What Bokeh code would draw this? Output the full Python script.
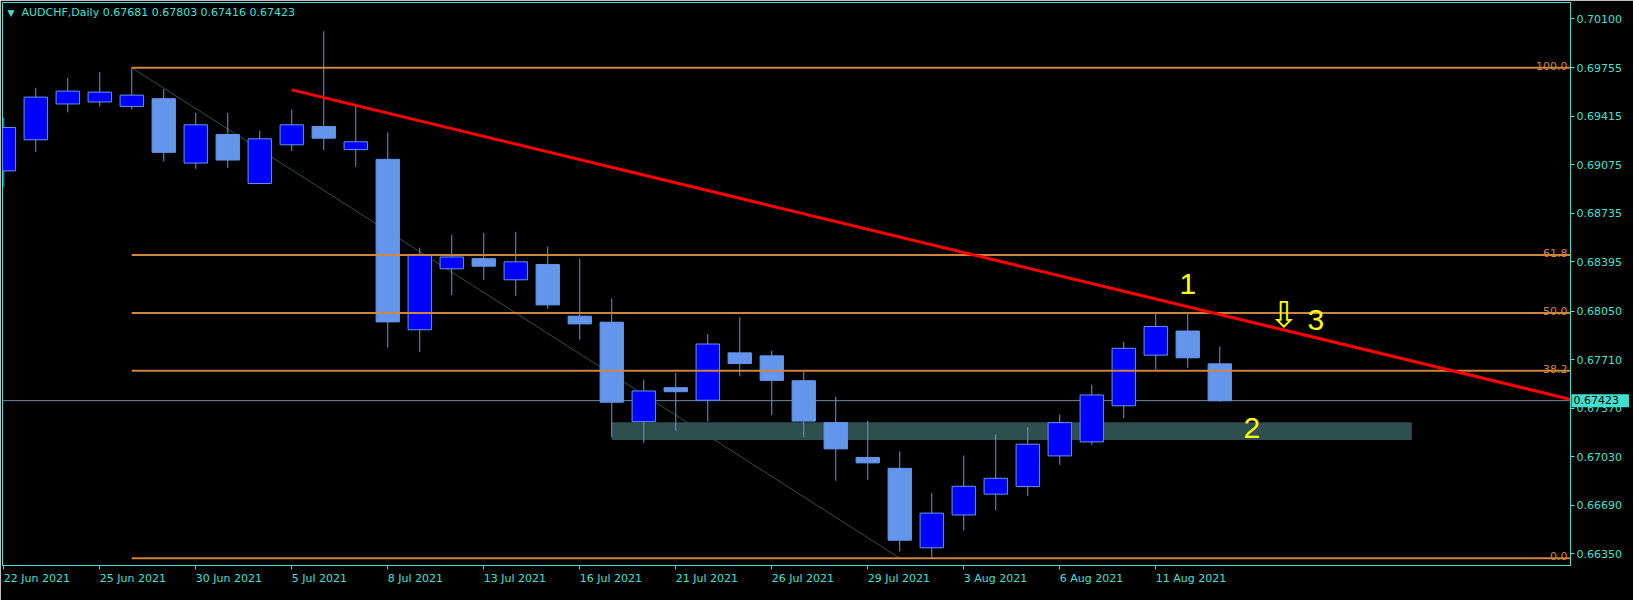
import numpy as np
from bokeh.plotting import figure
from bokeh.models import (Range1d, FixedTicker, PrintfTickFormatter, CustomJSTickFormatter,
                          Label, ColumnDataSource, Span)
from bokeh.core.properties import value
from bokeh.embed import file_html
from bokeh.resources import INLINE

# ---------------- data ----------------
symbol = "AUDCHF"
timeframe = "Daily"

dates = ["2021-06-22", "2021-06-23", "2021-06-24", "2021-06-25", "2021-06-28", "2021-06-29",
         "2021-06-30", "2021-07-01", "2021-07-02", "2021-07-05", "2021-07-06", "2021-07-07",
         "2021-07-08", "2021-07-09", "2021-07-12", "2021-07-13", "2021-07-14", "2021-07-15",
         "2021-07-16", "2021-07-19", "2021-07-20", "2021-07-21", "2021-07-22", "2021-07-23",
         "2021-07-26", "2021-07-27", "2021-07-28", "2021-07-29", "2021-07-30", "2021-08-02",
         "2021-08-03", "2021-08-04", "2021-08-05", "2021-08-06", "2021-08-09", "2021-08-10",
         "2021-08-11", "2021-08-12", "2021-08-13"]

opens = [0.69033, 0.69251, 0.69502, 0.69516, 0.69485, 0.69539, 0.69088, 0.69288, 0.68945,
         0.69216, 0.69344, 0.69182, 0.69114, 0.67920, 0.68347, 0.68418, 0.68270, 0.68377,
         0.68015, 0.67973, 0.67276, 0.67514, 0.67426, 0.67758, 0.67737, 0.67563, 0.67269,
         0.67025, 0.66949, 0.66392, 0.66622, 0.66768, 0.66821, 0.67036, 0.67134, 0.67387,
         0.67742, 0.67911, 0.67681]
highs = [0.69406, 0.69615, 0.69685, 0.69726, 0.69756, 0.69606, 0.69439, 0.69439, 0.69316,
         0.69462, 0.70012, 0.69497, 0.69302, 0.68495, 0.68585, 0.68599, 0.68606, 0.68502,
         0.68418, 0.68140, 0.67570, 0.67618, 0.67890, 0.68008, 0.67772, 0.67625, 0.67451,
         0.67282, 0.67067, 0.66775, 0.67039, 0.67187, 0.67236, 0.67326, 0.67535, 0.67834,
         0.68031, 0.68031, 0.67803]
lows = [0.68919, 0.69165, 0.69443, 0.69485, 0.69464, 0.69100, 0.69047, 0.69054, 0.68940,
        0.69172, 0.69179, 0.69061, 0.67795, 0.67765, 0.68163, 0.68268, 0.68156, 0.68066,
        0.67850, 0.67166, 0.67127, 0.67210, 0.67276, 0.67593, 0.67321, 0.67168, 0.66862,
        0.66869, 0.66366, 0.66319, 0.66514, 0.66654, 0.66756, 0.66974, 0.67113, 0.67301,
        0.67641, 0.67653, 0.67416]
closes = [0.69337, 0.69550, 0.69592, 0.69585, 0.69564, 0.69163, 0.69356, 0.69109, 0.69258,
          0.69356, 0.69262, 0.69237, 0.67975, 0.68441, 0.68430, 0.68365, 0.68396, 0.68094,
          0.67961, 0.67412, 0.67491, 0.67486, 0.67820, 0.67683, 0.67565, 0.67280, 0.67085,
          0.66987, 0.66445, 0.66635, 0.66823, 0.66879, 0.67118, 0.67269, 0.67463, 0.67790,
          0.67943, 0.67723, 0.67423]

x_tick_idx = [0, 3, 6, 9, 12, 15, 18, 21, 24, 27, 30, 33, 36]
x_tick_labels = ["22 Jun 2021", "25 Jun 2021", "30 Jun 2021", "5 Jul 2021", "8 Jul 2021",
                 "13 Jul 2021", "16 Jul 2021", "21 Jul 2021", "26 Jul 2021", "29 Jul 2021",
                 "3 Aug 2021", "6 Aug 2021", "11 Aug 2021"]
y_ticks = [0.70100, 0.69755, 0.69415, 0.69075, 0.68735, 0.68395, 0.68050, 0.67710,
           0.67370, 0.67030, 0.66690, 0.66350]

# Fibonacci retracement anchors (bar index, price)
fib_idx = [4, 28]
fib_price = [0.69756, 0.66319]
fib_levels = [100.0, 61.8, 50.0, 38.2, 0.0]

# red trendline anchors
trend_idx = [9, 37]
trend_price = [0.69601, 0.68081]

# support zone
zone_idx = [19, 44]
zone_price = [0.67147, 0.67271]

# annotations
note_text = ["1", "2", "3"]
note_idx = [37, 39, 41]
note_price = [0.68238, 0.67229, 0.67991]
arrow_idx = [40]
arrow_price = [0.68029]

# ---------------- style ----------------
TURQ = "#40E0D0"
BULL = "#0000FF"
BEAR = "#6495ED"
WICK = "#6495ED"
PERU = "#CD853F"
SLATE = "#2F4F4F"
BIDLINE = "#778899"
FONT = "DejaVu Sans"
FS = 11
PX_PER_BAR = 32.0

X0, X1 = -0.04, 48.96
Y1 = 0.70213
Y0 = 0.66268

p = figure(width=1633, height=600, output_backend="svg", toolbar_location=None,
           x_range=Range1d(X0, X1), y_range=Range1d(Y0, Y1),
           y_axis_location="right", min_border_left=2, min_border_top=2,
           min_border_right=63, min_border_bottom=24,
           background_fill_color="black", border_fill_color="black")
p.grid.visible = False
p.outline_line_color = TURQ
p.outline_line_width = 1

# ---- axes ----
p.yaxis.ticker = FixedTicker(ticks=y_ticks)
p.yaxis.formatter = PrintfTickFormatter(format="%.5f")

# MT4 prints date labels starting at the tick: put the label centres half a label
# width to the right of the tick marks (tick marks drawn as minor ticks).
_w = {" ": 651, "J": 604, "u": 1298, "n": 1298, "l": 569, "A": 1401, "g": 1300}
def _half_width_bars(s):
    em = sum(_w.get(ch, 1303) for ch in s) / 2048.0
    return em * FS / 2.0 / PX_PER_BAR
label_pos = [t + _half_width_bars(s) for t, s in zip(x_tick_idx, x_tick_labels)]
p.xaxis.ticker = FixedTicker(ticks=label_pos, minor_ticks=x_tick_idx)
p.xaxis.formatter = CustomJSTickFormatter(args=dict(labels=x_tick_labels),
                                          code="return labels[index]")
for ax in (p.xaxis[0], p.yaxis[0]):
    ax.axis_line_color = TURQ
    ax.major_label_text_color = TURQ
    ax.major_label_text_font = FONT
    ax.major_label_text_font_size = f"{FS}px"
    ax.major_label_standoff = 2
p.yaxis.major_tick_line_color = TURQ
p.yaxis.major_tick_out = 4
p.yaxis.major_tick_in = 0
p.yaxis.minor_tick_line_color = None
p.xaxis.major_tick_line_color = None
p.xaxis.major_tick_out = 4
p.xaxis.major_tick_in = 0
p.xaxis.minor_tick_line_color = TURQ
p.xaxis.minor_tick_out = 4
p.xaxis.minor_tick_in = 0

# ---- fib diagonal ----
p.line(fib_idx, fib_price, line_color=SLATE, line_width=1)

# ---- zone ----
p.quad(left=[zone_idx[0]], right=[zone_idx[1]], bottom=[zone_price[0]], top=[zone_price[1]],
       fill_color=SLATE, line_color=None)

# ---- bid line ----
p.add_layout(Span(location=closes[-1], dimension="width", line_color=BIDLINE,
                  line_width=1, level="underlay"))

# ---- candles ----
o = np.array(opens); c = np.array(closes)
idx = np.arange(len(dates))
src = ColumnDataSource(dict(x=idx, high=highs, low=lows,
                            top=np.maximum(o, c), bottom=np.minimum(o, c),
                            fill=np.where(c >= o, BULL, BEAR)))
p.segment(x0="x", y0="high", x1="x", y1="low", line_color=WICK, line_width=1, source=src)
p.vbar(x="x", width=0.73, top="top", bottom="bottom", fill_color="fill",
       line_color=WICK, line_width=1, source=src)

# ---- fib horizontal levels ----
hi, lo = fib_price
lvl_prices = [lo + (hi - lo) * l / 100.0 for l in fib_levels]
p.segment(x0=[fib_idx[0]] * len(lvl_prices), x1=[X1] * len(lvl_prices),
          y0=lvl_prices, y1=lvl_prices, line_color=PERU, line_width=2)
p.text(x=[X1] * len(lvl_prices), y=lvl_prices, text=[f"{l:.1f}" for l in fib_levels],
       text_color=PERU, text_font=value(FONT), text_font_size=f"{FS}px",
       text_align="right", text_baseline="alphabetic", x_offset=-3, y_offset=-2)

# ---- red trendline (ray to the right edge) ----
slope = (trend_price[1] - trend_price[0]) / (trend_idx[1] - trend_idx[0])
p.line([trend_idx[0], X1], [trend_price[0], trend_price[0] + slope * (X1 - trend_idx[0])],
       line_color="#FF0000", line_width=3)

# ---- yellow annotations ----
p.text(x=note_idx, y=note_price, text=note_text, text_color="#FFFF00",
       text_font=value("Liberation Sans"), text_font_size="30px",
       text_align="center", text_baseline="middle")
p.text(x=arrow_idx, y=arrow_price, text=["\u21e9"], text_color="#FFFF00",
       text_font=value("DejaVu Sans"), text_font_size="36px",
       text_align="center", text_baseline="middle")

# ---- header ----
p.add_layout(Label(x=X0, y=Y1, text="\u25bc", x_offset=5, y_offset=-10,
                   text_align="left", text_baseline="middle", text_color=TURQ,
                   text_font=FONT, text_font_size="9px"))
header = f"{symbol},{timeframe}  {opens[-1]:.5f} {highs[-1]:.5f} {lows[-1]:.5f} {closes[-1]:.5f}"
p.add_layout(Label(x=X0, y=Y1, text=header, x_offset=19, y_offset=-10,
                   text_align="left", text_baseline="middle", text_color=TURQ,
                   text_font=FONT, text_font_size=f"{FS}px"))

# ---- last price box on the price axis (side panel so it is not clipped) ----
p.add_layout(Label(x=X1, y=closes[-1], text=f" {closes[-1]:.5f} ", x_offset=1,
                   text_align="left", text_baseline="middle", text_color="black",
                   text_font=FONT, text_font_size=f"{FS}px",
                   background_fill_color=TURQ,
                   padding=dict(left=2, right=3, top=0, bottom=0)), "below")

open("out.html", "w").write(file_html(p, INLINE))
